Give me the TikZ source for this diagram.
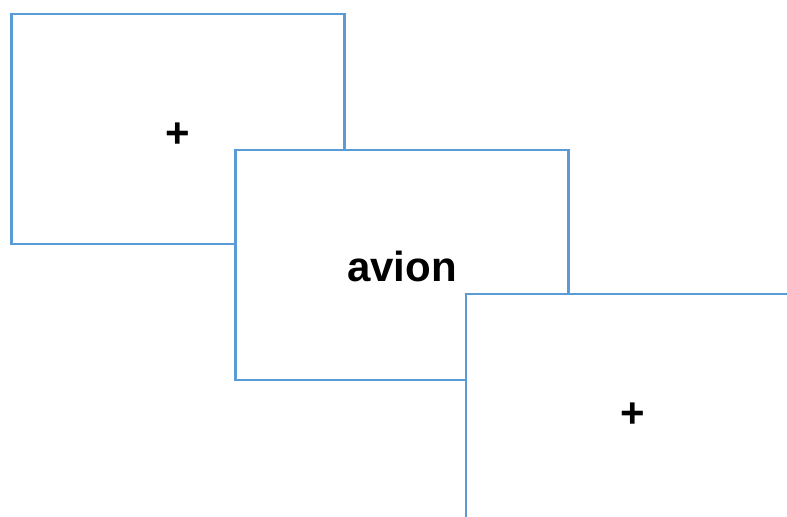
\documentclass[tikz,border=0pt]{standalone}
\usepackage{fontspec}
\setmainfont{Liberation Sans}
\definecolor{frameblue}{HTML}{5B9BD5}

\begin{document}
\begin{tikzpicture}[x=1bp,y=-1bp,
  screen/.style={draw=frameblue,line width=2.2bp,fill=white,
    minimum width=333bp,minimum height=230bp,inner sep=0pt,anchor=north west},
  word/.style={font=\bfseries\fontsize{42bp}{48bp}\selectfont,inner sep=0pt}]
  % page frame, the last screen runs off its edge
  \clip (0,0) rectangle (787,517);
  \fill[white] (0,0) rectangle (787,517);
  % three screens, each one laid over the previous
  \node[screen] (s1) at (10.3,12.8) {};
  \node[screen] (s2) at (234.3,148.7) {};
  \node[screen] (s3) at (465,292.7) {};
  % fixation crosses and the word
  \node[word] (fix1) at ([yshift=-6bp]s1.center) {+};
  \node[word] (mot) at ([yshift=-2bp]s2.center) {avion};
  \node[word] (fix2) at ([yshift=-6bp]s3.center) {+};
\end{tikzpicture}
\end{document}
